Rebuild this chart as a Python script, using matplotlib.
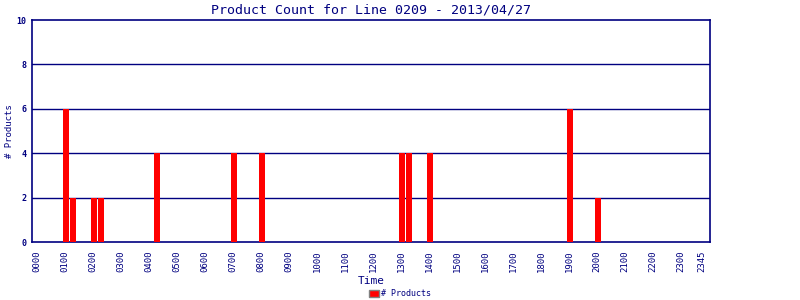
import numpy as np
import matplotlib.pyplot as plt
from matplotlib.patches import Patch

NAVY = "#000080"

# 15-minute slots over the day
slot_labels = [f"{h:02d}{m:02d}" for h in range(24) for m in (0, 15, 30, 45)]
tick_labels = [f"{h:02d}00" for h in range(24)] + ["2345"]

# non-zero counts (slot label -> count)
bar_times = ["0100", "0115", "0200", "0215", "0415", "0700", "0800",
             "1300", "1315", "1400", "1900", "2000"]
bar_counts = [6, 2, 2, 2, 4, 4, 4, 4, 4, 4, 6, 2]

counts = np.zeros(len(slot_labels))
for t, c in zip(bar_times, bar_counts):
    counts[slot_labels.index(t)] = c

x = np.arange(len(slot_labels))

plt.rcParams["font.family"] = "DejaVu Sans Mono"
fig = plt.figure(figsize=(8, 3), dpi=100)
ax = fig.add_axes([0.04, 0.1933, 0.8475, 0.74])

ax.bar(x + 0.15, counts, width=0.86, color="#ff0000", zorder=3)

ax.set_xlim(-0.7, 96.1)
ax.set_ylim(0, 10)
ax.set_yticks([0, 2, 4, 6, 8, 10])
ax.set_yticklabels(["0", "2", "4", "6", "8", "10"], fontsize=6, color=NAVY, weight="bold")
tick_pos = [slot_labels.index(t) for t in tick_labels]
ax.set_xticks(tick_pos)
ax.set_xticklabels(tick_labels, rotation=90, fontsize=6.5, color=NAVY)
ax.tick_params(axis="x", length=0, pad=6)
ax.tick_params(axis="y", length=0, pad=4)

for y in [2, 4, 6, 8]:
    ax.axhline(y, color=NAVY, lw=1, zorder=1)
for s in ax.spines.values():
    s.set_color(NAVY)
    s.set_linewidth(1.2)

ax.set_title("Product Count for Line 0209 - 2013/04/27", fontsize=9.5, color=NAVY, pad=5)
ax.set_ylabel("# Products", fontsize=6.5, color=NAVY)
ax.yaxis.set_label_coords(-0.027, 0.5)
ax.set_xlabel("Time", fontsize=8, color=NAVY, labelpad=3)

fig.legend(handles=[Patch(facecolor="#ff0000", edgecolor="grey", label="# Products")],
           loc="lower center", bbox_to_anchor=(0.5, -0.02), frameon=False,
           fontsize=6, handlelength=1.2, handleheight=0.9, handletextpad=0.3,
           labelcolor=NAVY)

fig.savefig("out.png", dpi=100)
